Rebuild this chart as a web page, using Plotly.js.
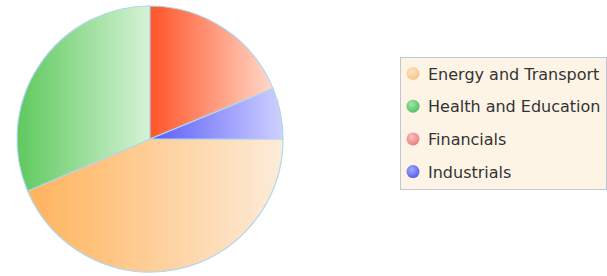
<!DOCTYPE html>
<html>
<head>
<meta charset="utf-8">
<script src="https://cdn.plot.ly/plotly-3.0.1.min.js"></script>
<style>
  html, body { margin: 0; padding: 0; background: #ffffff; }
  #chart { width: 607px; height: 276px; }
</style>
</head>
<body>
<div id="chart"></div>
<script>
// Data (percent shares)
const labels = ["Energy and Transport", "Health and Education", "Financials", "Industrials"];
const values = [43.6, 31.4, 18.8, 6.2];

// Styling (colours) kept separate from data
const baseColors = ["#fdcf98", "#94dc94", "#ff9a7c", "#9a9cfc"];
const gradStops = [
  ["#ffb35c", "#fdecd9"],
  ["#5ec95e", "#d6f3d6"],
  ["#ff5428", "#ffd9c9"],
  ["#5a5cf8", "#cfd1ff"]
];
const legendMarkerColors = [
  ["#fde2c0", "#f6c68e"],
  ["#9ee6a8", "#55c062"],
  ["#fbc0c0", "#e88080"],
  ["#a5aaff", "#5560ee"]
];

const W = 607, H = 276;
const cx = 150, cy = 139, R = 133;

const data = [{
  type: "pie",
  labels: labels,
  values: values,
  sort: false,
  direction: "clockwise",
  rotation: 90,
  textinfo: "none",
  hoverinfo: "none",
  marker: {
    colors: baseColors,
    line: { color: "#b3d6ec", width: 1.2 }
  },
  domain: {
    x: [(cx - R) / W, (cx + R) / W],
    y: [(H - cy - R) / H, (H - cy + R) / H]
  }
}];

const layout = {
  width: W,
  height: H,
  margin: { l: 0, r: 0, t: 0, b: 0, autoexpand: false },
  paper_bgcolor: "#ffffff",
  showlegend: true,
  legend: {
    x: 400 / W,
    y: 1 - 57 / H,
    xanchor: "left",
    yanchor: "top",
    bgcolor: "#fdf4e6",
    bordercolor: "#bfc8d2",
    borderwidth: 1,
    font: { family: "DejaVu Sans, Verdana, sans-serif", size: 16, color: "#333333" }
  }
};

Plotly.newPlot("chart", data, layout, { staticPlot: true, displayModeBar: false }).then(function (gd) {
  const NS = "http://www.w3.org/2000/svg";
  const svg = gd.querySelector("svg.main-svg");
  let defs = svg.querySelector("defs");
  if (!defs) { defs = document.createElementNS(NS, "defs"); svg.insertBefore(defs, svg.firstChild); }

  gradStops.forEach(function (s, i) {
    const g = document.createElementNS(NS, "linearGradient");
    g.setAttribute("id", "sliceGrad" + i);
    g.setAttribute("x1", "0"); g.setAttribute("y1", "0");
    g.setAttribute("x2", "1"); g.setAttribute("y2", "0");
    [[0, s[0]], [1, s[1]]].forEach(function (st) {
      const stop = document.createElementNS(NS, "stop");
      stop.setAttribute("offset", st[0]);
      stop.setAttribute("stop-color", st[1]);
      g.appendChild(stop);
    });
    defs.appendChild(g);
  });
  legendMarkerColors.forEach(function (s, i) {
    const g = document.createElementNS(NS, "radialGradient");
    g.setAttribute("id", "legGrad" + i);
    g.setAttribute("cx", "0.4"); g.setAttribute("cy", "0.35"); g.setAttribute("r", "0.65");
    [[0, s[0]], [1, s[1]]].forEach(function (st) {
      const stop = document.createElementNS(NS, "stop");
      stop.setAttribute("offset", st[0]);
      stop.setAttribute("stop-color", st[1]);
      g.appendChild(stop);
    });
    defs.appendChild(g);
  });

  gd.querySelectorAll("g.slice path.surface").forEach(function (p, i) {
    p.style.fill = "url(#sliceGrad" + i + ")";
  });

  // Legend layout tweaks: spacing, circular markers
  const legend = gd.querySelector("g.legend");
  const boxW = 206, boxH = 132;
  const items = legend.querySelectorAll("g.traces");
  items.forEach(function (t, i) {
    t.setAttribute("transform", "translate(1," + (16.5 + 32.7 * i) + ")");
    const txt = t.querySelector("text.legendtext");
    if (txt) txt.setAttribute("x", "27");
    const sym = t.querySelector("path.legendpie");
    if (sym) {
      const r = 6.5;
      sym.setAttribute("transform", "translate(12,0)");
      sym.setAttribute("d", "M" + r + ",0A" + r + "," + r + " 0 1,1 " + (-r) + ",0A" + r + "," + r + " 0 1,1 " + r + ",0Z");
      sym.style.fill = "url(#legGrad" + i + ")";
      sym.style.stroke = "none";
    }
  });
  const bg = legend.querySelector("rect.bg");
  if (bg) { bg.setAttribute("width", boxW); bg.setAttribute("height", boxH); }
  svg.querySelectorAll("clipPath").forEach(function (cp) {
    if (cp.id && cp.id.indexOf("legend") === 0) {
      cp.querySelectorAll("rect").forEach(function (r) { r.setAttribute("width", boxW); r.setAttribute("height", boxH); });
    }
  });
  const sb = legend.querySelector("g.scrollbox");
  if (sb) sb.removeAttribute("clip-path");
});
</script>
</body>
</html>
